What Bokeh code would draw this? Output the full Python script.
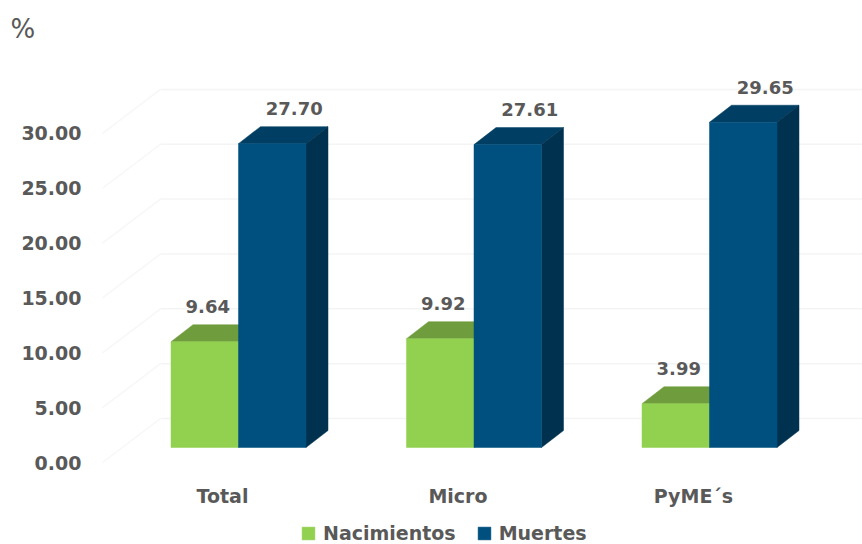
from bokeh.plotting import figure
from bokeh.models import Range1d, FixedTicker, NumeralTickFormatter, Legend, LegendItem, Label
from bokeh.core.properties import value
from bokeh.embed import file_html
from bokeh.resources import INLINE

categories = ["Total", "Micro", "PyME´s"]
nacimientos = [9.64, 9.92, 3.99]
muertes = [27.70, 27.61, 29.65]
y_ticks = [0, 5, 10, 15, 20, 25, 30]
series_names = ["Nacimientos", "Muertes"]

# layout: the frame fills the page; x=0 is the seam of the first pair, y=0 the front floor edge
W, H = 862, 544
SEAM_PX, ZERO_PX = 238, 462
PX_X, PX_Y = 235.5, 10.97            # pixels per category / per percent
FONT = "DejaVu Sans"
GREY = "#595959"
x0_left = -SEAM_PX / PX_X
x1_right = (W - SEAM_PX) / PX_X
y0_bottom = (ZERO_PX - H) / PX_Y
y1_top = ZERO_PX / PX_Y

BAR_W = 67.5 / PX_X
DX, DY = 22 / PX_X, 17 / PX_Y        # bar depth
BASE = 15 / PX_Y                     # bar floor above the axis plane
WALL_DX, WALL_DY = 58 / PX_X, 44 / PX_Y
WALL_LEFT = -136 / PX_X

p = figure(width=W, height=H, output_backend="svg", toolbar_location=None,
           x_range=Range1d(x0_left, x1_right), y_range=Range1d(y0_bottom, y1_top),
           min_border=0, outline_line_color=None, background_fill_color="white")
p.grid.visible = False

# y axis
ya = p.yaxis[0]
ya.fixed_location = -148 / PX_X
ya.ticker = FixedTicker(ticks=y_ticks)
ya.formatter = NumeralTickFormatter(format="0.00")
ya.axis_line_color = None
ya.major_tick_line_color = None
ya.minor_tick_line_color = None
ya.major_label_standoff = 3
ya.major_label_text_font = FONT
ya.major_label_text_font_style = "bold"
ya.major_label_text_font_size = "19px"
ya.major_label_text_color = GREY

# x axis
xa = p.xaxis[0]
xa.fixed_location = -8 / PX_Y
tick_pos = [i - 16 / PX_X for i in range(len(categories))]
xa.ticker = FixedTicker(ticks=tick_pos)
xa.major_label_overrides = {t: c for t, c in zip(tick_pos, categories)}
xa.axis_line_color = None
xa.major_tick_line_color = None
xa.minor_tick_line_color = None
xa.major_label_standoff = 8
xa.major_label_text_font = FONT
xa.major_label_text_font_style = "bold"
xa.major_label_text_font_size = "19px"
xa.major_label_text_color = GREY

# wall and floor gridlines
xb = WALL_LEFT + WALL_DX
p.multi_line([[xb, x1_right] for _ in y_ticks], [[t + WALL_DY, t + WALL_DY] for t in y_ticks],
             line_color="#F4F4F4", line_width=1.5)
p.multi_line([[WALL_LEFT, xb] for _ in y_ticks], [[t, t + WALL_DY] for t in y_ticks],
             line_color="#F7F7F7", line_width=1.5)


def bars(values, side, front, top, shade):
    """Draw one 3D series; side is -1 (left of the seam) or 0 (right of the seam)."""
    xl = [i + side * BAR_W for i in range(len(values))]
    xr = [x + BAR_W for x in xl]
    ytop = [v + BASE for v in values]
    p.patches([[a, a + DX, b + DX, b] for a, b in zip(xl, xr)],
              [[t, t + DY, t + DY, t] for t in ytop],
              fill_color=top, line_color=top, line_width=0.5)
    p.patches([[b, b + DX, b + DX, b] for b in xr],
              [[BASE, BASE + DY, t + DY, t] for t in ytop],
              fill_color=shade, line_color=shade, line_width=0.5)
    return p.vbar(x=[(a + b) / 2 for a, b in zip(xl, xr)], width=BAR_W, bottom=BASE, top=ytop,
                  fill_color=front, line_color=front, line_width=0.5)


r_n = bars(nacimientos, -1, "#92D050", "#6F9C3C", "#6F9C3C")
r_m = bars(muertes, 0, "#00507F", "#003F63", "#00324F")


def value_labels(values, side, nudge_px):
    xs = [i + side * BAR_W + BAR_W / 2 + nudge_px / PX_X for i in range(len(values))]
    ys = [v + BASE + DY + 18 / PX_Y for v in values]
    p.text(xs, ys, text=[f"{v:.2f}" for v in values], text_align="center", text_baseline="middle",
           text_font=value(FONT), text_font_style="bold", text_font_size="18px", text_color=GREY)


value_labels(nacimientos, -1, 3)
value_labels(muertes, 0, 22)

p.add_layout(Label(x=(10 - SEAM_PX) / PX_X, y=(ZERO_PX - 28) / PX_Y, text="%", text_align="left",
                   text_baseline="middle", text_font=FONT, text_font_size="26px", text_color=GREY))

legend = Legend(items=[LegendItem(label=series_names[0], renderers=[r_n]),
                       LegendItem(label=series_names[1], renderers=[r_m])],
                orientation="horizontal", location=(300, 0), padding=0, margin=0, spacing=20,
                border_line_color=None, background_fill_alpha=0,
                glyph_width=16, glyph_height=16, label_standoff=7,
                label_text_font=FONT, label_text_font_style="bold", label_text_font_size="19px",
                label_text_color=GREY)
p.add_layout(legend, "center")

open("out.html", "w").write(file_html(p, INLINE))
